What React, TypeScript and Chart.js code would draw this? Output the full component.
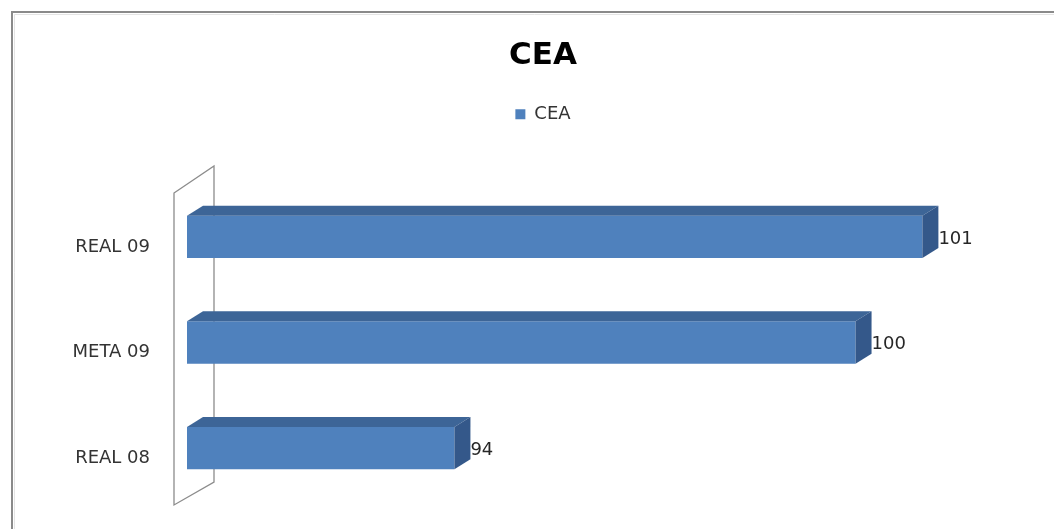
import React, { useEffect, useRef } from "react";
import { Chart, registerables } from "chart.js";

Chart.register(...registerables);

const categories = ["REAL 09", "META 09", "REAL 08"];
const seriesName = "CEA";
const values = [101, 100, 94];
const axisMin = 90;
const axisMax = 102.4;

const FRONT = "#4F81BD";
const TOP = "#3D6597";
const SIDE = "#34588A";
const DX = 16;
const DY = -10;

const chrome = {
  id: "chrome",
  beforeDraw(chart: any) {
    const ctx = chart.ctx;
    ctx.save();
    ctx.fillStyle = "#ffffff";
    ctx.fillRect(0, 0, chart.width, chart.height);
    ctx.strokeStyle = "#8a8a8a";
    ctx.lineWidth = 2;
    ctx.beginPath();
    ctx.moveTo(12, chart.height + 5);
    ctx.lineTo(12, 12);
    ctx.lineTo(chart.width + 5, 12);
    ctx.stroke();
    ctx.strokeStyle = "#e4e4e4";
    ctx.lineWidth = 1;
    ctx.beginPath();
    ctx.moveTo(14.5, chart.height + 5);
    ctx.lineTo(14.5, 14.5);
    ctx.lineTo(chart.width + 5, 14.5);
    ctx.stroke();
    ctx.restore();
  },
  beforeDatasetsDraw(chart: any) {
    const ctx = chart.ctx;
    const a = chart.chartArea;
    const fx = a.left - 13;
    const bx = a.left + 27;
    ctx.save();
    ctx.strokeStyle = "#8c8c8c";
    ctx.lineWidth = 1.3;
    ctx.beginPath();
    ctx.moveTo(fx, a.top + 9);
    ctx.lineTo(bx, a.top - 18);
    ctx.lineTo(bx, a.bottom - 19);
    ctx.lineTo(fx, a.bottom + 4);
    ctx.closePath();
    ctx.stroke();
    ctx.restore();
  },
  afterDatasetsDraw(chart: any) {
    const ctx = chart.ctx;
    const meta = chart.getDatasetMeta(0);
    const a = chart.chartArea;
    ctx.save();
    meta.data.forEach((bar: any, i: number) => {
      const p = bar.getProps(["x", "y", "base", "height"], true);
      const x0 = Math.max(p.base, a.left);
      const x1 = p.x;
      const yT = p.y - p.height / 2;
      const yB = p.y + p.height / 2;
      ctx.fillStyle = TOP;
      ctx.beginPath();
      ctx.moveTo(x0, yT);
      ctx.lineTo(x0 + DX, yT + DY);
      ctx.lineTo(x1 + DX, yT + DY);
      ctx.lineTo(x1, yT);
      ctx.closePath();
      ctx.fill();
      ctx.fillStyle = SIDE;
      ctx.beginPath();
      ctx.moveTo(x1, yT);
      ctx.lineTo(x1 + DX, yT + DY);
      ctx.lineTo(x1 + DX, yB + DY);
      ctx.lineTo(x1, yB);
      ctx.closePath();
      ctx.fill();
      ctx.fillStyle = "#262626";
      ctx.font = "18px 'DejaVu Sans'";
      ctx.textAlign = "left";
      ctx.textBaseline = "middle";
      ctx.fillText(String(values[i]), x1 + DX, p.y + 2);
    });
    ctx.restore();
  },
};

export default function App() {
  const ref = useRef<HTMLCanvasElement | null>(null);
  useEffect(() => {
    if (!ref.current) return;
    const chart = new Chart(ref.current, {
      type: "bar",
      data: {
        labels: categories,
        datasets: [
          {
            label: seriesName,
            data: values,
            backgroundColor: FRONT,
            borderWidth: 0,
            barPercentage: 0.4,
            categoryPercentage: 1,
          },
        ],
      },
      options: {
        indexAxis: "y",
        animation: false,
        responsive: false,
        layout: { padding: { left: 70, right: 38, top: 0, bottom: 28 } },
        plugins: {
          title: {
            display: true,
            text: "CEA",
            color: "#000",
            font: { family: "'DejaVu Sans'", size: 31, weight: "bold", lineHeight: 1.2 },
            padding: { top: 37, bottom: 21 },
          },
          legend: {
            display: true,
            labels: {
              boxWidth: 10,
              boxHeight: 10,
              padding: 10,
              color: "#333",
              font: { family: "'DejaVu Sans'", size: 18 },
            },
          },
          tooltip: { enabled: false },
        },
        scales: {
          x: {
            position: "top",
            min: axisMin,
            max: axisMax,
            grid: { display: false },
            border: { display: false },
            ticks: { display: false },
            afterFit: (s: any) => {
              s.height = 50.8;
            },
          },
          y: {
            grid: { display: false, drawTicks: false },
            border: { display: false },
            ticks: {
              color: "#333",
              padding: 37,
              labelOffset: 10,
              font: { family: "'DejaVu Sans'", size: 18 },
            },
            afterFit: (s: any) => {
              s.width = 117;
              s.paddingTop = 0;
              s.paddingBottom = 0;
            },
          },
        },
      },
      plugins: [chrome],
    });
    return () => chart.destroy();
  }, []);
  return (
    <div style={{ position: "fixed", left: 0, top: 0, width: 1054, height: 529 }}>
      <canvas ref={ref} width={1054} height={529} style={{ display: "block" }} />
    </div>
  );
}
